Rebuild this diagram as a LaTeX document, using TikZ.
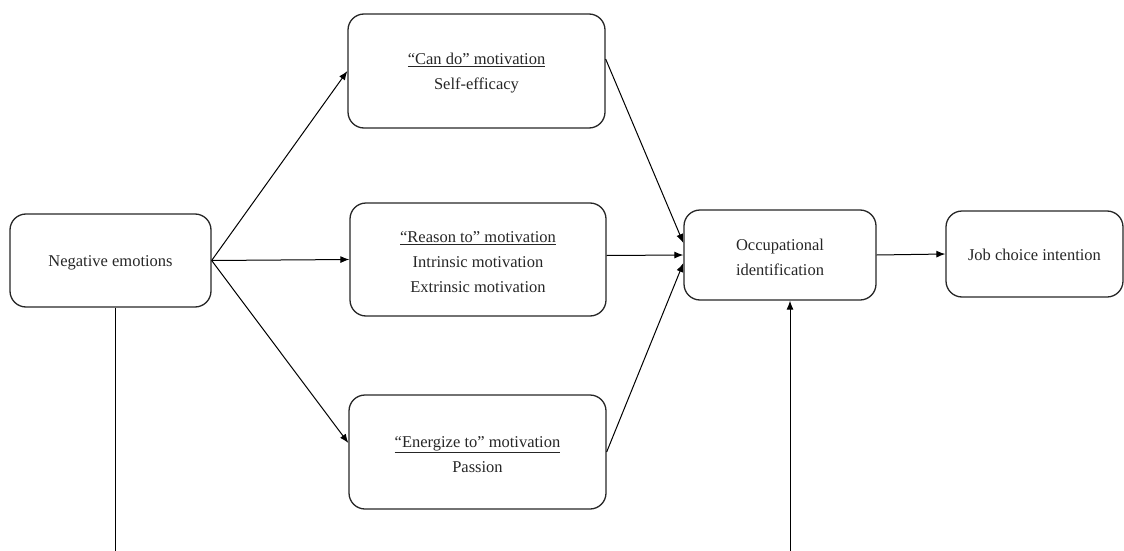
\documentclass[tikz,border=0pt]{standalone}
\usepackage{fontspec}
\setmainfont{Liberation Serif}
\usetikzlibrary{arrows.meta}
\begin{document}
\begin{tikzpicture}[x=1pt,y=-1pt,
  box/.style={draw=black!85,line width=1.3pt,rounded corners=16pt,inner sep=0pt},
  txt/.style={inner sep=0pt,align=center,font=\fontsize{16.5}{25}\selectfont,text=black!85},
  arr/.style={line width=1pt,-{Latex[length=9pt,width=7pt]}},
  ln/.style={line width=0.8pt}]
\useasboundingbox (0,0) rectangle (1124,551);
\node[box,minimum width=201pt,minimum height=93pt] (neg) at (110.5,260.5) {};
\node[box,minimum width=257pt,minimum height=114pt] (can) at (476.5,71) {};
\node[box,minimum width=256pt,minimum height=113pt] (rea) at (478,259.5) {};
\node[box,minimum width=257pt,minimum height=114pt] (ene) at (477.5,452) {};
\node[box,minimum width=192pt,minimum height=90pt] (occ) at (780,255) {};
\node[box,minimum width=177pt,minimum height=86pt] (job) at (1034.5,254) {};
\node[txt] (negt) at ([yshift=-2.5pt]neg.center) {Negative emotions};
\node[txt] (cant) at ([yshift=-2.5pt]can.center) {\underline{“Can do” motivation}\\Self-efficacy};
\node[txt] (reat) at ([yshift=-2.5pt]rea.center) {\underline{“Reason to” motivation}\\Intrinsic motivation\\Extrinsic motivation};
\node[txt] (enet) at ([yshift=-2.5pt]ene.center) {\underline{“Energize to” motivation}\\Passion};
\node[txt] (occt) at ([yshift=-2.5pt]occ.center) {Occupational\\identification};
\node[txt] (jobt) at ([yshift=-1pt]job.center) {Job choice intention};
\coordinate (b1) at (115,551);
\coordinate (b2) at (790,551);
\draw[arr] (neg.east) -- (can.west);
\draw[arr] (neg.east) -- (rea.west);
\draw[arr] (neg.east) -- ([yshift=9pt]ene.west);
\draw[arr] ([yshift=12pt]can.east) -- ([yshift=12pt]occ.west);
\draw[arr] ([yshift=4pt]rea.east) -- (occ.west);
\draw[arr] (ene.east) -- ([yshift=-8pt]occ.west);
\draw[arr] (occ.east) -- (job.west);
\draw[ln] (neg.south -| b1) -- (b1);
\draw[arr] (b2) -- (occ.south -| b2);
\end{tikzpicture}
\end{document}
